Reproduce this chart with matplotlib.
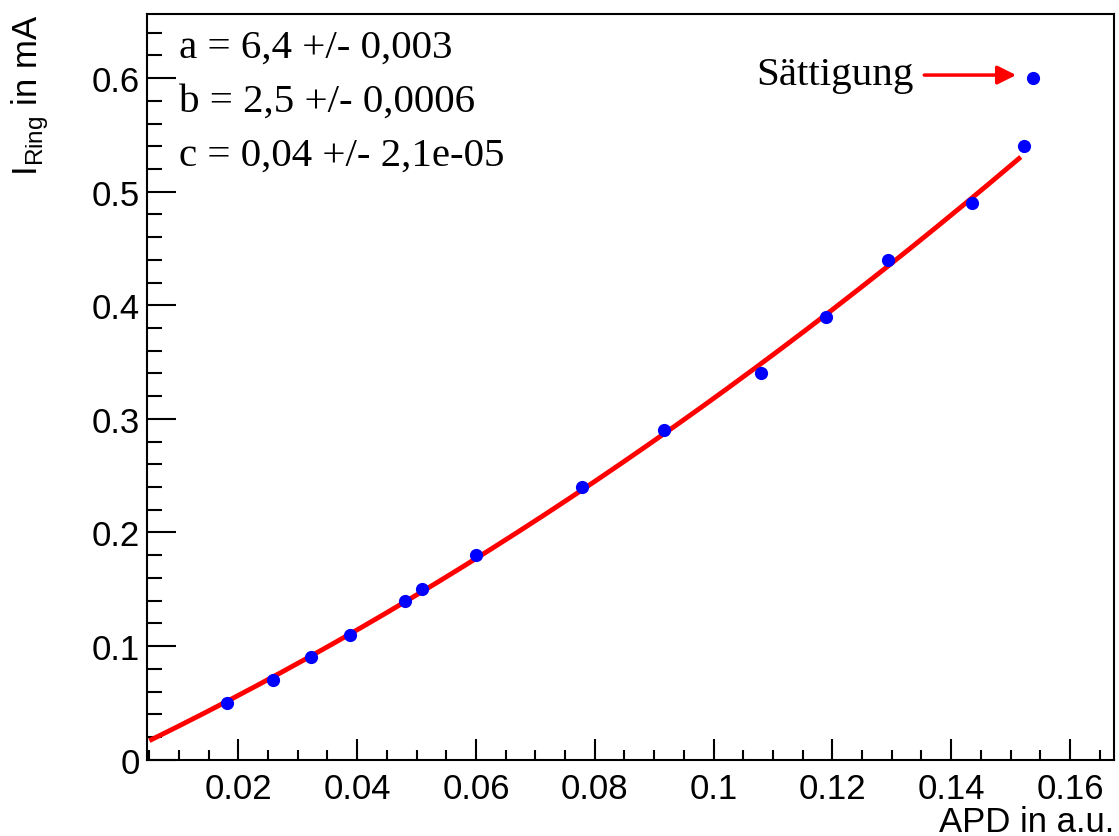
import numpy as np
import matplotlib.pyplot as plt
from matplotlib.ticker import MultipleLocator

# Measured points
apd = [0.0181, 0.0258, 0.0322, 0.0388, 0.0480, 0.0509, 0.0600, 0.0778,
       0.0917, 0.1080, 0.1190, 0.1293, 0.1435, 0.1522, 0.1537]
i_ring = [0.05, 0.07, 0.09, 0.11, 0.14, 0.15, 0.18, 0.24,
          0.29, 0.34, 0.39, 0.44, 0.49, 0.54, 0.60]

# Fit curve (quadratic, coefficients)
fit_a = 6.4
fit_b = 2.5
fit_c = 0.004
fit_range = [0.0054, 0.1514]

param_lines = ["a = 6,4 +/- 0,003", "b = 2,5 +/- 0,0006", "c = 0,04 +/- 2,1e-05"]

fig = plt.figure(figsize=(11.19, 8.37), dpi=100)
ax = fig.add_axes([0.1314, 0.0912, 0.9955 - 0.1314, 0.9824 - 0.0912])

xf = np.linspace(fit_range[0], fit_range[1], 200)
ax.plot(xf, fit_a * xf**2 + fit_b * xf + fit_c, color="red", lw=3.5, zorder=2)
ax.plot(apd, i_ring, "o", color="blue", ms=9.5, mec="none", zorder=3)

ax.set_xlim(0.00464, 0.1674)
ax.set_ylim(0, 0.6567)

ax.xaxis.set_major_locator(MultipleLocator(0.02))
ax.xaxis.set_minor_locator(MultipleLocator(0.005))
ax.yaxis.set_major_locator(MultipleLocator(0.1))
ax.yaxis.set_minor_locator(MultipleLocator(0.02))
ax.xaxis.set_major_formatter(lambda v, p: "0" if abs(v) < 1e-9 else f"{v:g}")
ax.yaxis.set_major_formatter(lambda v, p: "0" if abs(v) < 1e-9 else f"{v:g}")

for s in ax.spines.values():
    s.set_linewidth(1.5)
ax.tick_params(axis="both", which="both", direction="in", width=1.5, labelsize=25,
               top=False, right=False)
ax.tick_params(axis="x", which="major", length=15, pad=9)
ax.tick_params(axis="x", which="minor", length=7.5)
ax.tick_params(axis="y", which="major", length=21, pad=5)
ax.tick_params(axis="y", which="minor", length=11)
for lab in ax.get_xticklabels() + ax.get_yticklabels():
    lab.set_family("Liberation Sans")

fig.text(0.9955, 0.006, "APD in a.u.", ha="right", va="baseline", fontsize=25,
         family="Liberation Sans")
fig.text(0.027, 0.9824, r"I$_{\mathregular{Ring}}$ in mA", rotation=90, ha="center", va="top",
         fontsize=25, family="Liberation Sans")

for k, line in enumerate(param_lines):
    ax.text(0.0100, 0.627 - k * 0.0475, line, ha="left", va="center", fontsize=29.5,
            family="Liberation Serif")

ax.text(0.1336, 0.603, "Sättigung", ha="right", va="center", fontsize=29.5,
        family="Liberation Serif")
ax.annotate("", xy=(0.1514, 0.6027), xytext=(0.1350, 0.6027),
            arrowprops=dict(arrowstyle="-|>", color="red", lw=2.5, mutation_scale=28))

fig.savefig("out.png", dpi=100)
